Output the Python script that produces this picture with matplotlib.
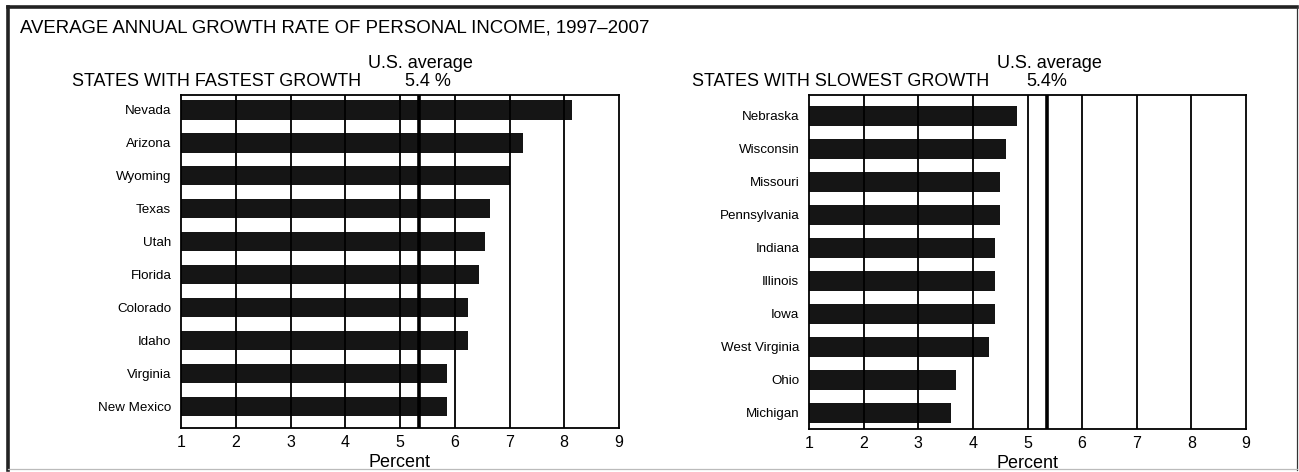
import numpy as np
import matplotlib
matplotlib.use("Agg")
import matplotlib.pyplot as plt
from matplotlib.lines import Line2D

fast_states = ['Nevada', 'Arizona', 'Wyoming', 'Texas', 'Utah', 'Florida',
               'Colorado', 'Idaho', 'Virginia', 'New Mexico']
fast_vals = [8.15, 7.25, 7.0, 6.65, 6.55, 6.45, 6.25, 6.25, 5.85, 5.85]

slow_states = ['Nebraska', 'Wisconsin', 'Missouri', 'Pennsylvania', 'Indiana',
               'Illinois', 'Iowa', 'West Virginia', 'Ohio', 'Michigan']
slow_vals = [4.8, 4.6, 4.5, 4.5, 4.4, 4.4, 4.4, 4.3, 3.7, 3.6]

us_avg = 5.35
ticks = [1, 2, 3, 4, 5, 6, 7, 8, 9]

head = ['Liberation Sans', 'DejaVu Sans']

W, H = 1299, 472
fig = plt.figure(figsize=(W / 100, H / 100), dpi=100)

def px(x0, y0, x1, y1):
    return [x0 / W, 1 - y1 / H, (x1 - x0) / W, (y1 - y0) / H]

def panel(rect, names, vals, ylim):
    ax = fig.add_axes(rect)
    y = np.arange(len(names))
    ax.barh(y, np.array(vals) - 1, left=1, height=0.58, color='#151515', zorder=2)
    for t in ticks[1:-1]:
        ax.axvline(t, color='black', lw=1.3, zorder=3)
    ax.axvline(us_avg, color='black', lw=2.6, zorder=4)
    ax.set_xlim(1, 9)
    ax.set_ylim(*ylim)
    ax.set_xticks(ticks)
    ax.set_xticklabels([str(t) for t in ticks], family=head, fontsize=11.5)
    ax.set_yticks(y)
    ax.set_yticklabels(names, family=head, fontsize=9.6)
    ax.tick_params(length=0, pad=7)
    ax.tick_params(axis='x', pad=5)
    for s in ax.spines.values():
        s.set_linewidth(1.3)
    ax.set_xlabel('Percent', family=head, fontsize=13, labelpad=3)
    return ax

axl = panel(px(181, 95, 619, 428), fast_states, fast_vals, (9.646, -0.455))
axr = panel(px(809, 95, 1246, 429), slow_states, slow_vals, (9.485, -0.636))

# headings
fig.text(20 / W, 1 - 28 / H, 'AVERAGE ANNUAL GROWTH RATE OF PERSONAL INCOME, 1997\u20132007',
         family=head, fontsize=13.4, va='center', ha='left')
fig.text(72 / W, 1 - 81 / H, 'STATES WITH FASTEST GROWTH', family=head, fontsize=13,
         va='center', ha='left')
fig.text(420 / W, 1 - 63 / H, 'U.S. average', family=head, fontsize=13, va='center', ha='center')
fig.text(428 / W, 1 - 81 / H, '5.4 %', family=head, fontsize=13, va='center', ha='center')
fig.text(692 / W, 1 - 82 / H, 'STATES WITH SLOWEST GROWTH', family=head, fontsize=13,
         va='center', ha='left')
fig.text(1049 / W, 1 - 63 / H, 'U.S. average', family=head, fontsize=13, va='center', ha='center')
fig.text(1047 / W, 1 - 82 / H, '5.4%', family=head, fontsize=13, va='center', ha='center')

# outer frame
fig.add_artist(Line2D([8 / W, 1297 / W], [1 - 7 / H, 1 - 7 / H], color='#222222', lw=2.6))
fig.add_artist(Line2D([8 / W, 8 / W], [1 - 7 / H, 1 - 470 / H], color='#222222', lw=2.6))
fig.add_artist(Line2D([1297 / W, 1297 / W], [1 - 7 / H, 1 - 470 / H], color='#333333', lw=0.9))
fig.add_artist(Line2D([8 / W, 1297 / W], [1 - 469 / H, 1 - 469 / H], color='#bbbbbb', lw=0.9))

fig.savefig('out.png', dpi=100)
